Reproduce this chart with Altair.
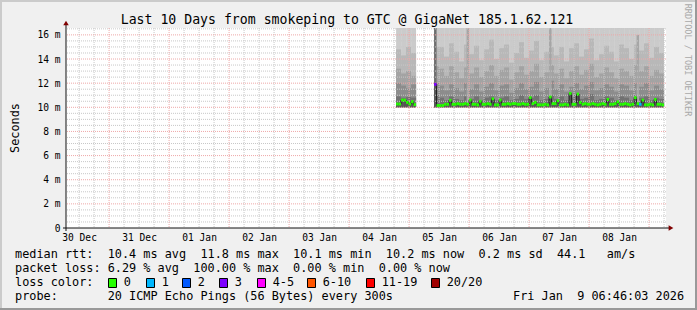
import altair as alt
import pandas as pd

# ---------------- data ----------------
# time in hours counted from 30 Dec 00:00; graph spans 30 Dec 06:46 -> 09 Jan 06:46
t_start = 6.77
t_end = 246.77
y_top = 16.57  # ms at top of plot area

day_labels = ['30 Dec', '31 Dec', '01 Jan', '02 Jan', '03 Jan',
              '04 Jan', '05 Jan', '06 Jan', '07 Jan', '08 Jan']
y_ticks = [0, 2, 4, 6, 8, 10, 12, 14, 16]

loss_labels = ['0', '1', '2', '3', '4-5', '6-10', '11-19', '20/20']
loss_colors = ['#26ff00', '#00b8ff', '#0059ff', '#7e00ff',
               '#ff00ff', '#ff5500', '#ff0000', '#a00000']

# hourly median RTT (ms) and lost pings, two blocks separated by an outage
b1_start = 138.8
b1_median = [10.27, 10.27, 10.60, 10.60, 10.41, 10.27, 10.47, 10.22]
b1_loss = [0, 0, 0, 0, 0, 0, 0, 0]

b2_start = 154.0
b2_median = [11.90, 10.15, 10.15, 10.15, 10.25, 10.25, 10.58, 10.25, 10.25, 10.30,
             10.25, 10.25, 10.30, 10.25, 10.60, 10.25, 10.25, 10.20, 10.50, 10.25,
             10.25, 10.30, 10.25, 10.70, 10.20, 10.20, 10.60, 10.25, 10.25, 10.30,
             10.25, 10.30, 10.30, 10.25, 10.25, 10.30, 10.25, 10.25, 10.80, 10.30,
             10.40, 10.20, 10.20, 10.20, 10.25, 10.20, 10.85, 10.30, 10.30, 10.55,
             10.20, 10.20, 10.25, 10.20, 11.15, 10.25, 10.25, 11.10, 10.40, 10.25,
             10.30, 10.25, 10.25, 10.30, 10.25, 10.20, 10.25, 10.30, 10.25, 10.65,
             10.25, 10.25, 10.30, 10.45, 10.25, 10.25, 10.30, 10.25, 10.20, 10.25,
             10.80, 10.30, 10.25, 10.60, 10.20, 10.20, 10.25, 10.20, 10.65, 10.25,
             10.25, 10.20]
b2_loss = [3, 0, 0, 0, 0, 0, 0, 0, 0, 0,
           0, 0, 0, 0, 0, 0, 0, 0, 0, 0,
           0, 0, 0, 0, 0, 0, 0, 0, 0, 0,
           0, 0, 0, 0, 0, 0, 0, 0, 0, 0,
           0, 0, 0, 0, 0, 0, 0, 0, 0, 0,
           0, 0, 0, 0, 0, 0, 0, 0, 0, 0,
           0, 0, 0, 0, 0, 0, 0, 0, 0, 0,
           0, 0, 0, 0, 0, 0, 0, 0, 0, 0,
           0, 0, 1, 0, 0, 0, 0, 0, 0, 0,
           0, 0]

# smoke, 2-hour buckets: upper edge (ms) of each grey shade; floor of smoke ~10.0 ms
smoke_floor = 10.0
b1_s1 = [14.8, 14.3, 15.0, 14.5]
b1_s2 = [13.2, 12.8, 13.0, 12.6]
b1_s3 = [12.0, 11.8, 11.6, 11.9]
b1_s4 = [10.9, 10.8, 10.85, 10.8]

b2_s1 = [15.0, 15.0, 14.2, 15.3, 14.6, 13.8, 15.2, 14.4, 15.1, 13.9,
         14.8, 15.6, 14.0, 14.9, 15.2, 13.7, 14.5, 15.4, 14.1, 14.7,
         15.5, 13.9, 14.6, 15.0, 14.3, 15.0, 13.8, 14.9, 15.3, 14.2,
         14.8, 15.7, 13.9, 14.4, 15.1, 14.6, 13.8, 15.2, 14.9, 14.0,
         15.2, 14.7, 15.3, 14.1, 15.0, 14.5]
b2_s2 = [13.4, 13.2, 12.6, 13.4, 12.9, 12.4, 13.3, 12.8, 13.3, 12.5,
         13.0, 13.5, 12.6, 13.1, 13.3, 12.3, 12.9, 13.4, 12.7, 13.0,
         13.6, 12.5, 12.9, 13.5, 12.8, 13.2, 12.4, 13.0, 13.4, 12.7,
         13.1, 13.6, 12.5, 12.8, 13.3, 12.9, 12.4, 13.2, 13.0, 12.6,
         13.5, 13.0, 13.4, 12.6, 13.1, 12.8]
b2_s3 = [12.0, 11.8, 11.4, 11.9, 11.6, 11.3, 12.0, 11.5, 11.9, 11.3,
         11.7, 12.0, 11.4, 11.8, 11.9, 11.2, 11.6, 12.0, 11.5, 11.7,
         12.1, 11.3, 11.6, 12.2, 11.5, 11.9, 11.3, 11.7, 12.0, 11.5,
         11.8, 12.1, 11.4, 11.6, 11.9, 11.7, 11.3, 11.9, 11.8, 11.4,
         12.0, 11.7, 12.0, 11.4, 11.8, 11.5]
b2_s4 = [11.0, 10.8, 10.6, 10.9, 10.7, 10.6, 10.9, 10.7, 10.9, 10.6,
         10.8, 10.9, 10.6, 10.8, 10.9, 10.6, 10.7, 11.0, 10.7, 10.8,
         11.0, 10.6, 10.7, 11.0, 10.7, 10.9, 10.6, 10.8, 11.0, 10.7,
         10.8, 11.1, 10.6, 10.7, 10.9, 10.8, 10.6, 10.9, 10.8, 10.6,
         11.0, 10.8, 10.9, 10.6, 10.8, 10.7]

# first hour after the outage: the whole smoke column is dark (time, top ms)
edge_t = [154.0]
edge_top = [16.57]
# single hours where a medium grey reaches high (time, top ms)
spike_t = [167.0, 200.0, 235.0]
spike_top = [16.57, 16.57, 16.0]

title_text = 'Last 10 Days from smokeping to GTC @ GigaNet 185.1.62.121'
legend_lines = [
    'median rtt:  10.4 ms avg  11.8 ms max  10.1 ms min  10.2 ms now  0.2 ms sd  44.1   am/s',
    'packet loss: 6.29 % avg  100.00 % max  0.00 % min  0.00 % now',
    'loss color:',
    'probe:       20 ICMP Echo Pings (56 Bytes) every 300s',
]
date_text = 'Fri Jan  9 06:46:03 2026'
watermark = 'RRDTOOL / TOBI OETIKER'
y_title = 'Seconds'

# ---------------- layout ----------------
PAD_L, PAD_T, W, H = 66, 28, 600, 200
PAD_R = 697 - PAD_L - W
PAD_B = 310 - PAD_T - H
MONO = 'DejaVu Sans Mono'


def px(x):
    return x - PAD_L


def py(y):
    return y - PAD_T


def loss_bin(n):
    if n <= 3:
        return loss_labels[n]
    if n <= 5:
        return '4-5'
    if n <= 10:
        return '6-10'
    if n <= 19:
        return '11-19'
    return '20/20'


med_rows = []
for blk, (start, meds, losses) in enumerate([(b1_start, b1_median, b1_loss),
                                              (b2_start, b2_median, b2_loss)]):
    for i, (m, l) in enumerate(zip(meds, losses)):
        med_rows.append(dict(t=start + i, t2=start + i + 1, median=m,
                             lo=m - 0.12, hi=m + 0.12, floor=smoke_floor,
                             loss=loss_bin(l), block=blk))
med_df = pd.DataFrame(med_rows)

smoke_rows = []
for start, n_h, s1, s2, s3, s4 in [(b1_start, len(b1_median), b1_s1, b1_s2, b1_s3, b1_s4),
                                   (b2_start, len(b2_median), b2_s1, b2_s2, b2_s3, b2_s4)]:
    for i in range(len(s1)):
        smoke_rows.append(dict(t=start + 2 * i, t2=min(start + 2 * i + 2, start + n_h),
                               floor=smoke_floor, top=y_top,
                               s1=s1[i], s2=s2[i], s3=s3[i], s4=s4[i]))
smoke_df = pd.DataFrame(smoke_rows)


def col_df(ts, tops):
    return pd.DataFrame(dict(t=ts, t2=[v + 1 for v in ts],
                             floor=[smoke_floor] * len(ts), top=tops))


xs = alt.Scale(domain=[t_start, t_end], nice=False, zero=False)
ys = alt.Scale(domain=[0, y_top], nice=False, zero=False)

label_arr = '[' + ','.join("'%s'" % s for s in day_labels) + ']'
x_axis = alt.Axis(values=[12 + 24 * i for i in range(len(day_labels))],
                  labelExpr=label_arr + '[round((datum.value-12)/24)]',
                  grid=False, ticks=False, domain=False, title=None,
                  labelFont=MONO, labelFontSize=9.6, labelColor='black',
                  labelBaseline='alphabetic', labelPadding=12, labelFlush=False,
                  labelOverlap=False)
y_axis = alt.Axis(values=y_ticks,
                  labelExpr="datum.value == 0 ? '0' : datum.value + ' m'",
                  grid=False, ticks=False, domain=False, title=None,
                  labelFont=MONO, labelFontSize=9.6, labelColor='black',
                  labelPadding=6, labelOverlap=False)


def X(f):
    return alt.X(f, scale=xs, axis=x_axis)


def Y(f):
    return alt.Y(f, scale=ys, axis=y_axis)


layers = []
# smoke shades
layers.append(alt.Chart(smoke_df).mark_rect(color='#cbcbcb').encode(
    x=X('t:Q'), x2='t2', y=Y('floor:Q'), y2='top'))
for col, shade in [('s1', '#b8b8b8'), ('s2', '#a3a3a3'), ('s3', '#8c8c8c'), ('s4', '#717171')]:
    layers.append(alt.Chart(smoke_df).mark_rect(color=shade).encode(
        x=X('t:Q'), x2='t2', y=Y('floor:Q'), y2=col))
layers.append(alt.Chart(col_df(spike_t, spike_top)).mark_rect(color='#a6a6a6').encode(
    x=X('t:Q'), x2='t2', y=Y('floor:Q'), y2='top'))
layers.append(alt.Chart(col_df(edge_t, edge_top)).mark_rect(color='#6e6e6e').encode(
    x=X('t:Q'), x2='t2', y=Y('floor:Q'), y2='top'))
layers.append(alt.Chart(med_df).mark_rect(color='#555555').encode(
    x=X('t:Q'), x2='t2', y=Y('floor:Q'), y2='median'))

# grid
gx_minor = [h for h in range(6, 250, 6) if h % 24 and t_start < h < t_end]
gx_major = [h for h in range(24, 250, 24) if t_start < h < t_end]
gy_minor = [v / 2 for v in range(1, 34) if v % 4]
gy_major = [v for v in y_ticks if v > 0]
for vals, color, ch in [(gx_minor, '#c8c8c8', 'x'), (gy_minor, '#c8c8c8', 'y'),
                        (gx_major, '#eea8a8', 'x'), (gy_major, '#eea8a8', 'y')]:
    enc = {ch: (X('g:Q') if ch == 'x' else Y('g:Q'))}
    layers.append(alt.Chart(pd.DataFrame({'g': vals})).mark_rule(
        color=color, strokeDash=[1, 1], strokeWidth=1).encode(**enc))

# median line and loss coloured segments
layers.append(alt.Chart(med_df).mark_line(interpolate='step-after', color='#202020',
                                          strokeWidth=1).encode(
    x=X('t:Q'), y=Y('median:Q'), detail='block:N', order='t:Q'))
layers.append(alt.Chart(med_df).mark_rect().encode(
    x=X('t:Q'), x2='t2', y=Y('lo:Q'), y2='hi',
    color=alt.Color('loss:N', scale=alt.Scale(domain=loss_labels, range=loss_colors),
                    legend=None)))

one = pd.DataFrame({'a': [0]})
# axis lines and arrows
layers.append(alt.Chart(one).mark_rule(color='#101010', strokeWidth=1).encode(
    x=alt.value(-3), x2=alt.value(W + 4), y=alt.value(H)))
layers.append(alt.Chart(one).mark_rule(color='#101010', strokeWidth=1).encode(
    x=alt.value(0), y=alt.value(H + 3), y2=alt.value(-4)))
layers.append(alt.Chart(one).mark_point(shape='triangle-right', filled=True, color='#800000',
                                        size=30, opacity=1).encode(
    x=alt.value(W + 5), y=alt.value(H)))
layers.append(alt.Chart(one).mark_point(shape='triangle-up', filled=True, color='#800000',
                                        size=30, opacity=1).encode(
    x=alt.value(0), y=alt.value(-5)))


def text(s, x, y, size=11.85, align='left', angle=0, color='black', baseline='alphabetic'):
    return alt.Chart(pd.DataFrame({'s': [s.replace(' ', '\u00a0')]})).mark_text(
        font=MONO, fontSize=size, align=align, baseline=baseline, angle=angle,
        color=color).encode(text='s:N', x=alt.value(px(x)), y=alt.value(py(y)))


layers.append(text(title_text, 347, 24, size=13.2, align='center'))
for k, line in enumerate(legend_lines):
    layers.append(text(line, 15, 257.5 + 14 * k))
layers.append(text(date_text, 513, 299.5))
layers.append(text(y_title, 15, 128, align='center', angle=270, baseline='middle'))
layers.append(text(watermark, 688, 60, size=8.5, align='center', angle=90,
                   color='#a8a8a8', baseline='middle'))

# loss colour swatches
swatch_x = [108, 146, 182, 219, 257, 307, 366, 431]
for sx, lab, colr in zip(swatch_x, loss_labels, loss_colors):
    layers.append(alt.Chart(one).mark_rect(fill=colr, stroke='black', strokeWidth=1).encode(
        x=alt.value(px(sx) + 0.5), x2=alt.value(px(sx) + 8.5),
        y=alt.value(py(278) + 0.5), y2=alt.value(py(287) + 0.5)))
    layers.append(text(lab, sx + 15.7, 285.5))

# image frame
for (x1, x2, y1, y2, c) in [(0, 697, 0, 2, '#cbcbcb'), (0, 2, 0, 310, '#cbcbcb'),
                            (0, 697, 308, 310, '#999999'), (695, 697, 0, 310, '#999999')]:
    layers.append(alt.Chart(one).mark_rect(color=c).encode(
        x=alt.value(px(x1)), x2=alt.value(px(x2)), y=alt.value(py(y1)), y2=alt.value(py(y2))))

chart = alt.layer(*layers).properties(
    width=W, height=H, autosize='none', background='#f0f0f0',
    padding={'left': PAD_L, 'top': PAD_T, 'right': PAD_R, 'bottom': PAD_B},
).configure_view(fill='white', strokeWidth=0)

chart.save('out.html', embed_options={'renderer': 'svg', 'actions': False})
